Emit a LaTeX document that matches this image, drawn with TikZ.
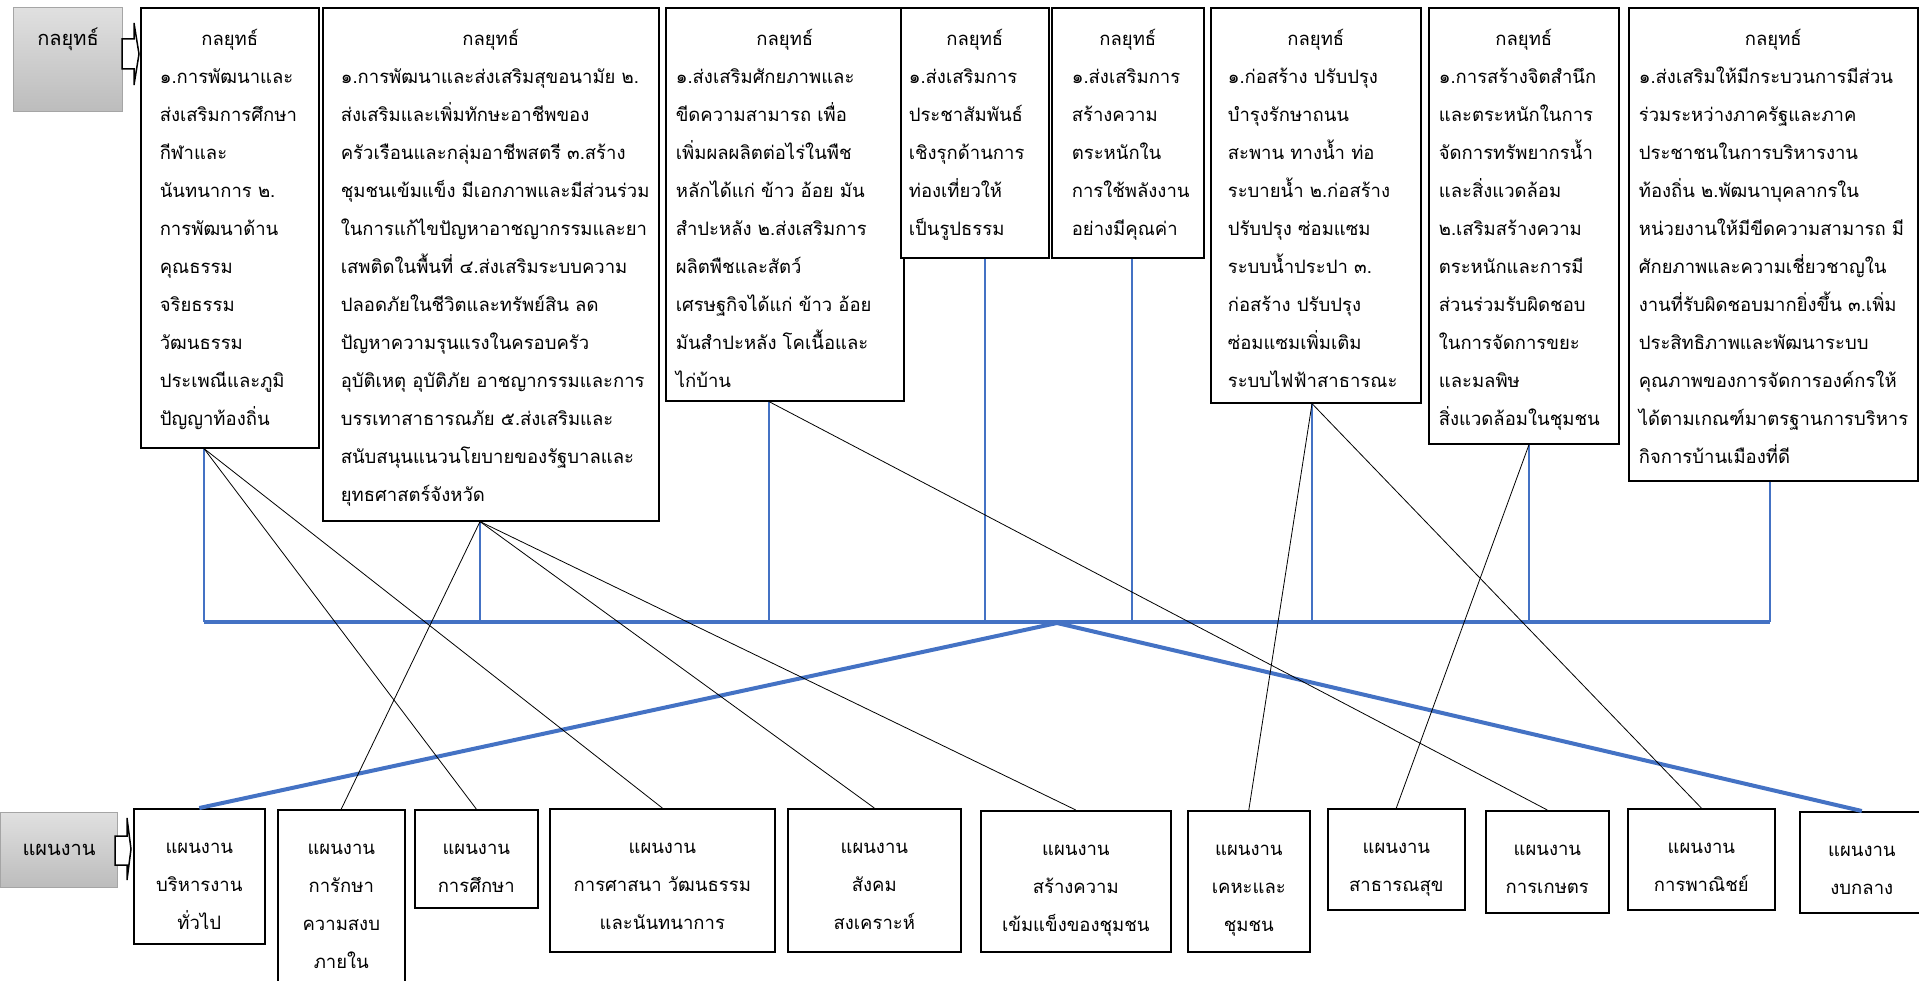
\documentclass[tikz,border=0pt]{standalone}
\usepackage{fontspec}
\setmainfont[Script=Thai]{Loma}
\usetikzlibrary{positioning}
\definecolor{linkblue}{RGB}{68,114,196}
\definecolor{tagtop}{RGB}{224,224,224}
\definecolor{tagbottom}{RGB}{188,188,188}
\definecolor{tagborder}{RGB}{165,165,165}
\newcommand{\strattitle}{{\centering กลยุทธ์\par}}

\begin{document}
\begin{tikzpicture}[
    x=1pt, y=-1pt,
    font=\fontsize{18.5}{38}\selectfont,
    stratbox/.style={draw=black, line width=1.6pt, fill=white, anchor=north west, align=left, inner ysep=0pt, text height=38pt},
    planbox/.style={draw=black, line width=1.6pt, fill=white, anchor=north west, align=center, inner sep=0pt, text height=45pt},
    tagbox/.style={draw=tagborder, line width=1pt, top color=tagtop, bottom color=tagbottom, anchor=north west, inner sep=0pt, align=center, font=\fontsize{20}{38}\selectfont},
    tagarrow/.style={draw=black, line width=1.5pt, fill=white},
    busline/.style={linkblue, line width=4pt},
    dropline/.style={linkblue, line width=2.5pt},
    planlink/.style={black, line width=0.8pt}
]
\useasboundingbox (0,0) rectangle (1919,981);

% Row labels
\node[tagbox, minimum width=109pt, text height=38pt, text depth=66pt] (tagS) at (13,7) {กลยุทธ์};
\draw[tagarrow] (122,39) -- (134,39) -- (134,23) -- (139,54) -- (134,85) -- (134,69) -- (122,69) -- cycle;
\node[tagbox, minimum width=117pt, minimum height=75pt] (tagP) at (0,812) {แผนงาน};
\draw[tagarrow] (115,836) -- (127,836) -- (127,818) -- (131,849) -- (127,880) -- (127,865) -- (115,865) -- cycle;

% Strategies (top row)
\node[stratbox, inner xsep=19pt, text width=140pt, text depth=402pt] (s1) at (140,7) {\strattitle
    ๑.การพัฒนาและ\\ส่งเสริมการศึกษา\\กีฬาและ\\นันทนาการ~๒.\\การพัฒนาด้าน\\คุณธรรม\\จริยธรรม\\วัฒนธรรม\\ประเพณีและภูมิ\\ปัญญาท้องถิ่น};
\node[stratbox, inner xsep=18pt, text width=300pt, text depth=475pt] (s2) at (322,7) {\strattitle
    ๑.การพัฒนาและส่งเสริมสุขอนามัย~๒.\\ส่งเสริมและเพิ่มทักษะอาชีพของ\\ครัวเรือนและกลุ่มอาชีพสตรี~๓.สร้าง\\ชุมชนเข้มแข็ง~มีเอกภาพและมีส่วนร่วม\\ในการแก้ไขปัญหาอาชญากรรมและยา\\เสพติดในพื้นที่~๔.ส่งเสริมระบบความ\\ปลอดภัยในชีวิตและทรัพย์สิน~ลด\\ปัญหาความรุนแรงในครอบครัว\\อุบัติเหตุ~อุบัติภัย~อาชญากรรมและการ\\บรรเทาสาธารณภัย~๕.ส่งเสริมและ\\สนับสนุนแนวนโยบายของรัฐบาลและ\\ยุทธศาสตร์จังหวัด};
\node[stratbox, inner xsep=10pt, text width=218pt, text depth=355pt] (s3) at (665,7) {\strattitle
    ๑.ส่งเสริมศักยภาพและ\\ขีดความสามารถ~เพื่อ\\เพิ่มผลผลิตต่อไร่ในพืช\\หลักได้แก่~ข้าว~อ้อย~มัน\\สำปะหลัง~๒.ส่งเสริมการ\\ผลิตพืชและสัตว์\\เศรษฐกิจได้แก่~ข้าว~อ้อย\\มันสำปะหลัง~โคเนื้อและ\\ไก่บ้าน};
\node[stratbox, inner xsep=8pt, text width=132pt, text depth=212pt] (s4) at (900,7) {\strattitle
    ๑.ส่งเสริมการ\\ประชาสัมพันธ์\\เชิงรุกด้านการ\\ท่องเที่ยวให้\\เป็นรูปธรรม};
\node[stratbox, inner xsep=20pt, text width=112pt, text depth=212pt] (s5) at (1051,7) {\strattitle
    ๑.ส่งเสริมการ\\สร้างความ\\ตระหนักใน\\การใช้พลังงาน\\อย่างมีคุณค่า};
\node[stratbox, inner xsep=17pt, text width=176pt, text depth=357pt] (s6) at (1210,7) {\strattitle
    ๑.ก่อสร้าง~ปรับปรุง\\บำรุงรักษาถนน\\สะพาน~ทางน้ำ~ท่อ\\ระบายน้ำ~๒.ก่อสร้าง\\ปรับปรุง~ซ่อมแซม\\ระบบน้ำประปา~๓.\\ก่อสร้าง~ปรับปรุง\\ซ่อมแซมเพิ่มเติม\\ระบบไฟฟ้าสาธารณะ};
\node[stratbox, inner xsep=10pt, text width=170pt, text depth=398pt] (s7) at (1428,7) {\strattitle
    ๑.การสร้างจิตสำนึก\\และตระหนักในการ\\จัดการทรัพยากรน้ำ\\และสิ่งแวดล้อม\\๒.เสริมสร้างความ\\ตระหนักและการมี\\ส่วนร่วมรับผิดชอบ\\ในการจัดการขยะ\\และมลพิษ\\สิ่งแวดล้อมในชุมชน};
\node[stratbox, inner xsep=10pt, text width=269pt, text depth=435pt] (s8) at (1628,7) {\strattitle
    ๑.ส่งเสริมให้มีกระบวนการมีส่วน\\ร่วมระหว่างภาครัฐและภาค\\ประชาชนในการบริหารงาน\\ท้องถิ่น~๒.พัฒนาบุคลากรใน\\หน่วยงานให้มีขีดความสามารถ~มี\\ศักยภาพและความเชี่ยวชาญใน\\งานที่รับผิดชอบมากยิ่งขึ้น~๓.เพิ่ม\\ประสิทธิภาพและพัฒนาระบบ\\คุณภาพของการจัดการองค์กรให้\\ได้ตามเกณฑ์มาตรฐานการบริหาร\\กิจการบ้านเมืองที่ดี};

% Plans (bottom row)
\node[planbox, text width=131pt, text depth=90pt] (p1) at (133,808) {แผนงาน\\บริหารงาน\\ทั่วไป};
\node[planbox, text width=127pt, text depth=145pt] (p2) at (277,809) {แผนงาน\\การักษา\\ความสงบ\\ภายใน};
\node[planbox, text width=123pt, text depth=53pt] (p3) at (414,809) {แผนงาน\\การศึกษา};
\node[planbox, text width=225pt, text depth=98pt] (p4) at (549,808) {แผนงาน\\การศาสนา~วัฒนธรรม\\และนันทนาการ};
\node[planbox, text width=173pt, text depth=98pt] (p5) at (787,808) {แผนงาน\\สังคม\\สงเคราะห์};
\node[planbox, text width=190pt, text depth=96pt] (p6) at (980,810) {แผนงาน\\สร้างความ\\เข้มแข็งของชุมชน};
\node[planbox, text width=122pt, text depth=96pt] (p7) at (1187,810) {แผนงาน\\เคหะและ\\ชุมชน};
\node[planbox, text width=137pt, text depth=56pt] (p8) at (1327,808) {แผนงาน\\สาธารณสุข};
\node[planbox, text width=123pt, text depth=57pt] (p9) at (1485,810) {แผนงาน\\การเกษตร};
\node[planbox, text width=147pt, text depth=56pt] (p10) at (1627,808) {แผนงาน\\การพาณิชย์};
\node[planbox, text width=124pt, text depth=56pt] (p11) at (1799,811) {แผนงาน\\งบกลาง};

% Blue bus from strategies
\foreach \i/\x in {1/204, 2/480, 3/769, 4/985, 5/1132, 6/1312, 7/1529, 8/1770} {
    \coordinate (t\i) at (\x,622);
    \draw[dropline] (s\i.south -| t\i) -- (t\i);
}
\draw[busline] (t1) -- (t8);
\coordinate (hub) at (1057,623);
\draw[busline] (hub) -- (p1.north);
\draw[busline] (hub) -- (p11.north);

% Strategy to plan links
\foreach \s/\p in {1/3, 1/4, 2/2, 2/5, 2/6, 3/9, 6/7, 6/10, 7/8}
    \draw[planlink] (s\s.south -| t\s) -- (p\p.north);

\end{tikzpicture}
\end{document}
